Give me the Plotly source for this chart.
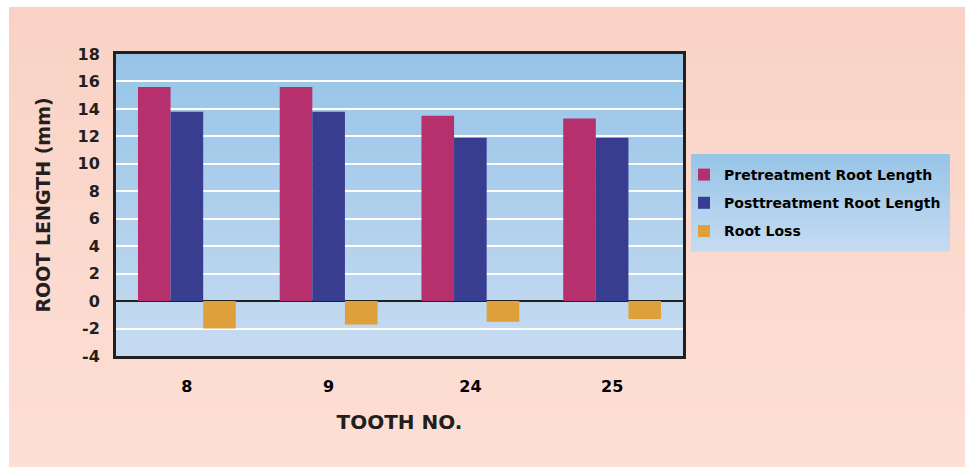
import plotly.graph_objects as go

teeth = ["8", "9", "24", "25"]
pretreatment = [15.6, 15.6, 13.5, 13.3]
posttreatment = [13.8, 13.8, 11.9, 11.9]
root_loss = [-2.0, -1.7, -1.5, -1.3]
y_ticks = [-4, -2, 0, 2, 4, 6, 8, 10, 12, 14, 16, 18]
y_tick_labels = ["-4", "-2", "0", "2", "4", "6", "8", "10", "12", "14", "16", "18"]

W, H = 965, 467
ML, MR, MT, MB = 116, 282, 54, 111
PW = W - ML - MR
PH = H - MT - MB

def px_x(p):
    return (p - ML) / PW

def px_y(p):
    return (H - MB - p) / PH

def lerp(c1, c2, t):
    return "rgb(%d,%d,%d)" % tuple(round(a + (b - a) * t) for a, b in zip(c1, c2))

FONT = "DejaVu Sans"
DARK = "#231F20"

fig = go.Figure()
fig.add_trace(go.Bar(name="Pretreatment Root Length", x=teeth, y=pretreatment,
                     marker=dict(color="#B5306D", line=dict(width=0)), legendgroup="a"))
fig.add_trace(go.Bar(name="Posttreatment Root Length", x=teeth, y=posttreatment,
                     marker=dict(color="#393D90", line=dict(width=0)), legendgroup="b"))
fig.add_trace(go.Bar(name="Root Loss", x=teeth, y=root_loss,
                     marker=dict(color="#DEA03A", line=dict(width=0)), legendgroup="c"))

shapes = []
# page background (pink gradient) with white strips at top and left
N = 24
top_c, bot_c = (250, 210, 197), (253, 223, 213)
y_top_px, y_bot_px = 7, H
for i in range(N):
    a = y_top_px + (y_bot_px - y_top_px) * i / N
    b = y_top_px + (y_bot_px - y_top_px) * (i + 1) / N
    shapes.append(dict(type="rect", xref="paper", yref="paper", layer="below",
                       x0=px_x(9), x1=px_x(W + 2), y0=px_y(b + 1), y1=px_y(a),
                       fillcolor=lerp(top_c, bot_c, (i + 0.5) / N), line=dict(width=0)))
# plot area gradient
N2 = 40
ptop, pbot = (150, 196, 232), (198, 219, 241)
for i in range(N2):
    shapes.append(dict(type="rect", xref="x domain", yref="y domain", layer="below",
                       x0=0, x1=1, y0=1 - (i + 1) / N2 - 0.002, y1=1 - i / N2,
                       fillcolor=lerp(ptop, pbot, (i + 0.5) / N2), line=dict(width=0)))
# legend box gradient
lx0, lx1, ly0, ly1 = 691, 950, 154, 251
N3 = 16
for i in range(N3):
    a = ly0 + (ly1 - ly0) * i / N3
    b = ly0 + (ly1 - ly0) * (i + 1) / N3
    shapes.append(dict(type="rect", xref="paper", yref="paper", layer="below",
                       x0=px_x(lx0), x1=px_x(lx1), y0=px_y(b + 0.6), y1=px_y(a),
                       fillcolor=lerp(ptop, pbot, (i + 0.5) / N3), line=dict(width=0)))

fig.update_layout(
    width=W, height=H,
    margin=dict(l=ML, r=MR, t=MT, b=MB, autoexpand=False),
    paper_bgcolor="white",
    plot_bgcolor="rgba(0,0,0,0)",
    barmode="group",
    bargap=0.31,
    bargroupgap=0,
    font=dict(family=FONT, color=DARK),
    shapes=shapes,
    showlegend=True,
    legend=dict(x=px_x(lx0 - 7), y=px_y(ly0 + 5), xanchor="left", yanchor="top",
                bgcolor="rgba(0,0,0,0)", borderwidth=0, tracegroupgap=7,
                font=dict(family=FONT, size=14, color="black", weight="bold")),
    xaxis=dict(
        range=[-0.5, 3.5], showgrid=False, zeroline=False,
        showline=True, linecolor=DARK, linewidth=3, mirror=True,
        ticks="outside", ticklen=14, tickcolor="rgba(0,0,0,0)",
        tickfont=dict(family=FONT, size=16, color="black", weight="bold"),
        title=dict(text="TOOTH NO.", standoff=20,
                   font=dict(family=FONT, size=20, color=DARK, weight="bold")),
    ),
    yaxis=dict(
        range=[-4, 18], tickvals=y_ticks, ticktext=y_tick_labels,
        showgrid=True, gridcolor="white", gridwidth=2,
        zeroline=True, zerolinecolor=DARK, zerolinewidth=2,
        showline=True, linecolor=DARK, linewidth=3, mirror=True,
        ticks="outside", ticklen=10, tickcolor="rgba(0,0,0,0)",
        tickfont=dict(family=FONT, size=16, color=DARK, weight="bold"),
        title=dict(text="ROOT LENGTH (mm)", standoff=22,
                   font=dict(family=FONT, size=19, color=DARK, weight="bold")),
    ),
)

fig.write_html("out.html")
